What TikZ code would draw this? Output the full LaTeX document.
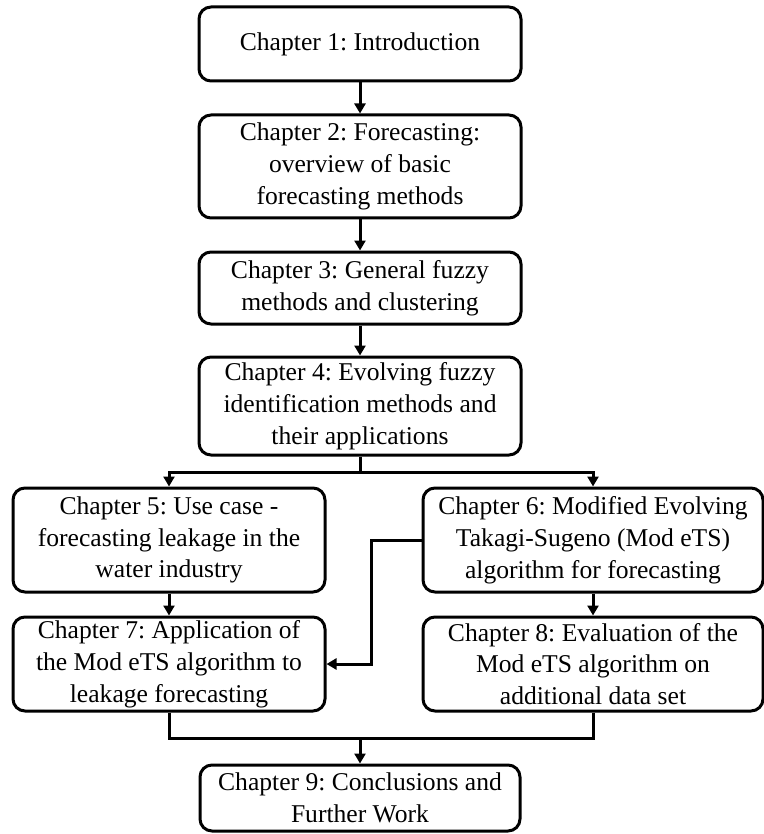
\documentclass[tikz,border=0pt]{standalone}
\usepackage{fontspec}
\setmainfont{Liberation Serif}
\usetikzlibrary{arrows.meta, calc, positioning}
\frenchspacing
\tikzstyle{chapter} = [rectangle, draw, rounded corners=6pt, line width=1.5pt, align=center, inner sep=0pt, font=\fontsize{12.8}{15.9}\selectfont]
\tikzstyle{arrow} = [line width=1.5pt, -{Triangle[length=5pt, width=5.5pt]}]
\tikzstyle{link} = [line width=1.5pt]

\begin{document}
\begin{tikzpicture}[x=0.5pt, y=-0.5pt]
            \useasboundingbox (0,0) rectangle (764,834);

            % Introductory chapters
            \node(ch1) [chapter, minimum width=161pt, minimum height=37pt] at (360,44)
                {Chapter 1: Introduction};
            \node(ch2) [chapter, minimum width=161pt, minimum height=51.5pt] at (360,166.5)
                {Chapter 2: Forecasting:\\ overview of basic\\ forecasting methods};
            \node(ch3) [chapter, minimum width=161pt, minimum height=36pt] at (360,288)
                {Chapter 3: General fuzzy\\ methods and clustering};
            \node(ch4) [chapter, minimum width=161pt, minimum height=49pt] at (360,406)
                {Chapter 4: Evolving fuzzy\\ identification methods and\\ their applications};

            % Two branches
            \node(ch5) [chapter, minimum width=156pt, minimum height=52pt] at (169,540)
                {Chapter 5: Use case -\\ forecasting leakage in the\\ water industry};
            \node(ch6) [chapter, minimum width=170pt, minimum height=52pt] at (593,540)
                {Chapter 6: Modified Evolving\\ Takagi-Sugeno (Mod eTS)\\ algorithm for forecasting};
            \node(ch7) [chapter, minimum width=156pt, minimum height=47pt] at (169,664)
                {Chapter 7: Application of\\ the Mod eTS algorithm to\\ leakage forecasting};
            \node(ch8) [chapter, minimum width=170pt, minimum height=47pt] at (593,664)
                {Chapter 8: Evaluation of the\\ Mod eTS algorithm on\\ additional data set};

            % Closing chapter
            \node(ch9) [chapter, minimum width=160pt, minimum height=33pt] at (360,798)
                {Chapter 9: Conclusions and\\ Further Work};

            \coordinate(split) at (360,472);
            \coordinate(merge) at (360,738);

            % Connections
            \foreach \a/\b in {ch1/ch2, ch2/ch3, ch3/ch4, ch5/ch7, ch6/ch8}
                \draw[arrow] (\a) -- (\b);
            \draw[link] (ch4) -- (split);
            \draw[arrow] (split) -| (ch5);
            \draw[arrow] (split) -| (ch6);
            \draw[arrow] (ch6.west) -- ++(-50,0) |- (ch7.east);
            \draw[link] (ch7.south) |- (merge);
            \draw[link] (ch8.south) |- (merge);
            \draw[arrow] (merge) -- (ch9);
        \end{tikzpicture}
\end{document}
